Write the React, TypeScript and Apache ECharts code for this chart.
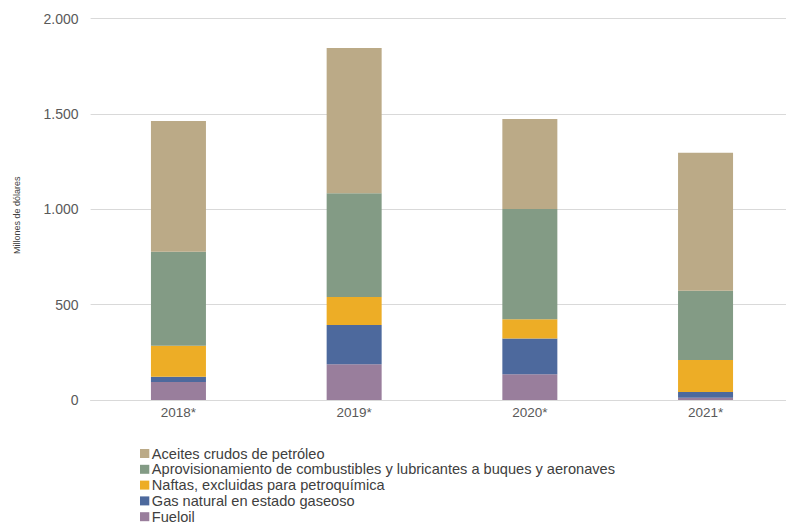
import React, { useEffect, useRef } from "react";
import * as echarts from "echarts";

const categories = ["2018*", "2019*", "2020*", "2021*"];
const fueloil = [94, 187, 135, 12];
const gasNatural = [28, 206, 187, 30];
const naftas = [163, 147, 101, 168];
const aprovisionamiento = [493, 544, 579, 363];
const aceites = [685, 762, 472, 724];
const yTicks = [0, 500, 1000, 1500, 2000];

const names = [
  "Fueloil",
  "Gas natural en estado gaseoso",
  "Naftas, excluidas para petroquímica",
  "Aprovisionamiento de combustibles y lubricantes a buques y aeronaves",
  "Aceites crudos de petróleo",
];
const colors = ["#997E9C", "#4D699D", "#EDAD26", "#839B85", "#BBAA87"];
const values = [fueloil, gasNatural, naftas, aprovisionamiento, aceites];

export default function App() {
  const ref = useRef<HTMLDivElement>(null);
  useEffect(() => {
    if (!ref.current) return;
    const chart = echarts.init(ref.current, null, { renderer: "svg" });
    const font = "Liberation Sans, Arial, sans-serif";
    chart.setOption({
      animation: false,
      textStyle: { fontFamily: font },
      grid: { left: 90.6, width: 702.8, top: 18.6, height: 381.4, outerBoundsMode: "none", containLabel: false },
      legend: {
        orient: "vertical",
        left: 140,
        top: 446,
        height: 120,
        itemWidth: 9.3,
        itemHeight: 9,
        itemGap: 0.8,
        icon: "rect",
        padding: 0,
        data: names.slice().reverse(),
        textStyle: { fontSize: 14.6, color: "#404040", lineHeight: 14, padding: [0, 0, 0, -2.5], fontFamily: font },
      },
      xAxis: {
        type: "category",
        data: categories,
        axisTick: { show: false },
        axisLine: { lineStyle: { color: "#d9d9d9" } },
        axisLabel: { color: "#595959", fontSize: 13.5, margin: 5, fontFamily: font },
      },
      yAxis: {
        type: "value",
        min: 0,
        max: yTicks[yTicks.length - 1],
        interval: 500,
        name: "Millones de dólares",
        nameLocation: "middle",
        nameGap: 69,
        nameRotate: 90,
        nameTextStyle: { color: "#404040", fontSize: 9, fontFamily: font, padding: [0, 12, 0, 0] },
        axisLabel: {
          color: "#595959",
          fontSize: 14,
          margin: 12,
          fontFamily: font,
          formatter: (v: number) => v.toString().replace(/\B(?=(\d{3})+(?!\d))/g, "."),
        },
        splitLine: { lineStyle: { color: "#d9d9d9" } },
      },
      series: names.map((n, i) => ({
        name: n,
        type: "bar",
        stack: "total",
        barWidth: 55,
        data: values[i],
        itemStyle: { color: colors[i] },
      })),
    });
    return () => chart.dispose();
  }, []);
  return (
    <div
      ref={ref}
      style={{ position: "fixed", left: 0, top: 0, width: 786, height: 525, background: "#fff" }}
    />
  );
}
